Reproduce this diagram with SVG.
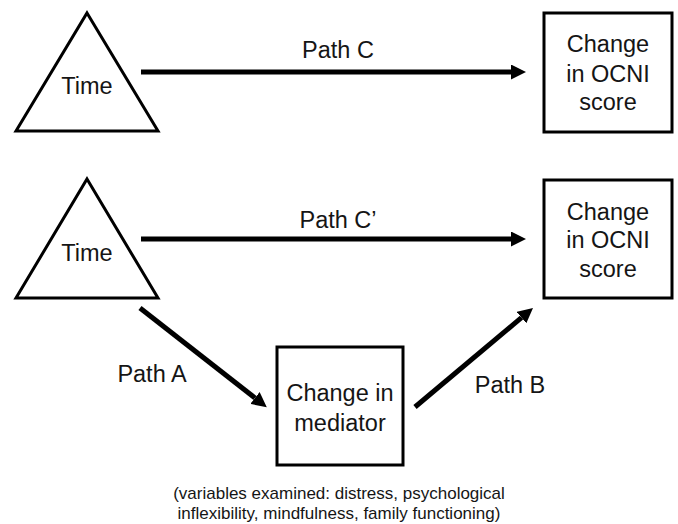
<svg xmlns="http://www.w3.org/2000/svg" width="678" height="524" viewBox="0 0 678 524">
<style>
  .shape { fill: #fff; stroke: #000; stroke-width: 3; }
  .edge { stroke: #000; stroke-width: 5; fill: none; }
  text { font-family: "Liberation Sans", Arial, sans-serif; font-size: 23.5px; fill: #151515; text-anchor: middle; }
  .caption { font-size: 17px; }
</style>
<defs>
  <marker id="arrow" markerUnits="userSpaceOnUse" viewBox="0 0 15 15" markerWidth="15" markerHeight="15" refX="0" refY="7.5" orient="auto">
    <path d="M0,0 L15,7.5 L0,15 z" fill="#000"/>
  </marker>
</defs>
<rect width="678" height="524" fill="#fff"/>

<g id="time1">
  <polygon class="shape" points="87,13 158,131 16,131"/>
  <text x="87" y="94">Time</text>
</g>
<g id="ocni1">
  <rect class="shape" x="544" y="13" width="128" height="119"/>
  <text x="608" y="52">Change</text>
  <text x="608" y="82">in OCNI</text>
  <text x="608" y="110">score</text>
</g>
<g id="time2">
  <polygon class="shape" points="87,179 158,298 16,298"/>
  <text x="87" y="261">Time</text>
</g>
<g id="ocni2">
  <rect class="shape" x="544" y="180" width="128" height="118"/>
  <text x="608" y="220">Change</text>
  <text x="608" y="248">in OCNI</text>
  <text x="608" y="277">score</text>
</g>
<g id="mediator">
  <rect class="shape" x="277" y="347" width="126" height="118"/>
  <text x="340" y="401">Change in</text>
  <text x="340" y="431">mediator</text>
</g>

<g id="connectors">
  <line class="edge" x1="141" y1="72" x2="511" y2="72" marker-end="url(#arrow)"/>
  <line class="edge" x1="141" y1="239" x2="511" y2="239" marker-end="url(#arrow)"/>
  <line class="edge" x1="140" y1="308" x2="255" y2="398" marker-end="url(#arrow)"/>
  <line class="edge" x1="415" y1="407" x2="521.5" y2="317.6" marker-end="url(#arrow)"/>
  <text x="338" y="58">Path C</text>
  <text x="338" y="228">Path C’</text>
  <text x="152" y="382">Path A</text>
  <text x="510" y="393">Path B</text>
</g>

<g id="caption">
  <text class="caption" x="339" y="499">(variables examined: distress, psychological</text>
  <text class="caption" x="339" y="519">inflexibility, mindfulness, family functioning)</text>
</g>
</svg>
